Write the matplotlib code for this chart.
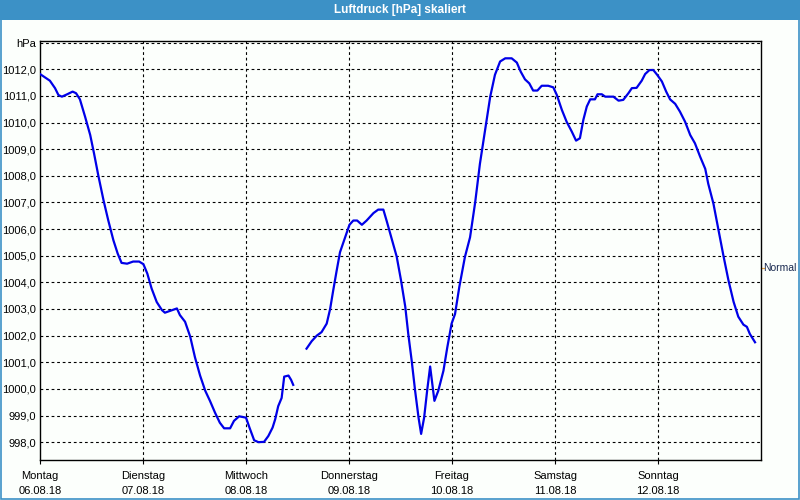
"""
Luftdruck [hPa] skaliert - Wochenverlauf 06.08.18 bis 12.08.18.
Writes out.png (800x500).
"""

import numpy as np
import matplotlib.pyplot as plt
from matplotlib.patches import Rectangle

# time in hours since Montag 06.08.18 00:00; NaN marks the data gap
hours = [
    0.0, 2.3, 3.5, 4.3, 5.1, 6.2, 7.6, 8.4, 9.3, 10.5, 11.7, 12.6, 13.6, 14.8,
    15.9, 17.1, 18.1, 19.0, 20.3, 21.7, 23.1, 24.1, 25.0, 26.0, 27.2, 28.4,
    29.1, 30.3, 31.9, 32.6, 33.8, 35.0, 36.1, 37.3, 38.5, 39.6, 40.8, 41.9,
    42.9, 44.3, 45.2, 46.4, 48.0, 48.8, 49.9, 50.9, 52.2, 53.2, 54.2, 54.8,
    55.5, 56.3, 56.9, 57.9, 58.5, 59.0,
    np.nan,
    62.1, 63.3, 64.5, 65.6, 66.8, 67.6, 68.3, 69.1, 69.9, 71.1, 72.1, 73.0,
    73.9, 75.0, 76.1, 77.7, 78.8, 80.0, 80.8, 82.0, 83.1, 84.1, 85.1, 85.8,
    86.6, 87.4, 88.2, 88.8, 89.5, 90.2, 90.9, 91.4, 91.9, 92.8, 94.0, 94.9,
    95.9, 96.7, 97.7, 99.0, 100.2, 101.4, 102.5, 103.7, 104.9, 106.0, 107.2,
    108.4, 109.9, 111.1, 112.0, 113.0, 114.0, 114.9, 115.9, 116.9, 118.4,
    119.6, 120.4, 121.6, 122.7, 123.9, 124.9, 125.8, 126.6, 127.4, 128.2,
    129.3, 129.9, 130.9, 131.7, 132.8, 133.6, 134.8, 135.9, 137.1, 137.9,
    139.0, 140.2, 141.0, 142.0, 142.9, 143.8, 144.9, 145.9, 146.8, 148.0,
    149.1, 150.3, 151.5, 152.6, 153.8, 155.0, 155.7, 156.9, 158.1, 159.2,
    160.4, 161.6, 162.7, 163.9, 164.7, 165.4, 166.6,
]
pressure = [
    1011.82, 1011.57, 1011.29, 1011.03, 1010.97, 1011.05, 1011.16, 1011.10,
    1010.87, 1010.22, 1009.53, 1008.83, 1008.00, 1007.08, 1006.33, 1005.58,
    1005.08, 1004.73, 1004.70, 1004.78, 1004.78, 1004.68, 1004.33, 1003.77,
    1003.26, 1002.96, 1002.86, 1002.93, 1003.02, 1002.77, 1002.52, 1001.96,
    1001.19, 1000.50, 999.93, 999.55, 999.10, 998.73, 998.52, 998.52, 998.80,
    998.97, 998.92, 998.55, 998.07, 998.00, 998.01, 998.23, 998.55, 998.86,
    999.35, 999.66, 1000.46, 1000.50, 1000.34, 1000.15,
    np.nan,
    1001.51, 1001.79, 1002.00, 1002.13, 1002.45, 1003.00, 1003.68, 1004.42,
    1005.13, 1005.69, 1006.16, 1006.32, 1006.32, 1006.16, 1006.32, 1006.60,
    1006.73, 1006.73, 1006.29, 1005.60, 1004.97, 1004.09, 1003.09, 1002.07,
    1001.06, 999.93, 998.92, 998.31, 998.92, 999.93, 1000.84, 1000.18,
    999.55, 999.93, 1000.68, 1001.56, 1002.45, 1002.81, 1003.83, 1004.95,
    1005.69, 1007.01, 1008.45, 1009.71, 1010.97, 1011.79, 1012.29, 1012.41,
    1012.41, 1012.25, 1011.91, 1011.62, 1011.47, 1011.20, 1011.20, 1011.38,
    1011.38, 1011.32, 1011.04, 1010.47, 1010.03, 1009.66, 1009.32, 1009.41,
    1010.10, 1010.60, 1010.87, 1010.87, 1011.06, 1011.06, 1010.97, 1010.97,
    1010.97, 1010.82, 1010.85, 1011.10, 1011.29, 1011.30, 1011.57, 1011.82,
    1011.97, 1011.97, 1011.79, 1011.54, 1011.16, 1010.87, 1010.70, 1010.41,
    1010.03, 1009.53, 1009.22, 1008.72, 1008.26, 1007.70, 1006.96, 1005.96,
    1005.03, 1004.08, 1003.27, 1002.71, 1002.41, 1002.33, 1002.06, 1001.75,
]

day_names = ["Montag", "Dienstag", "Mittwoch", "Donnerstag", "Freitag", "Samstag", "Sonntag"]
day_dates = ["06.08.18", "07.08.18", "08.08.18", "09.08.18", "10.08.18", "11.08.18", "12.08.18"]
y_ticks = list(range(998, 1013))
normal_level = 1004.53

TITLE_BG = "#3c91c6"
PANEL_BG = "#fcfffc"
LINE_BLUE = "#0000e8"

plt.rcParams["font.family"] = ["Liberation Sans", "DejaVu Sans"]


def main() -> None:
    fig = plt.figure(figsize=(8, 5), dpi=100, facecolor=PANEL_BG)

    # title bar + outer frame
    fig.patches.append(Rectangle((0, 0.96), 1, 0.04, transform=fig.transFigure,
                                 facecolor=TITLE_BG, edgecolor="none", zorder=0))
    fig.patches.append(Rectangle((0.001, 0.0015), 0.998, 0.997, transform=fig.transFigure,
                                 facecolor="none", edgecolor=TITLE_BG, linewidth=1.2, zorder=1))
    fig.text(0.5, 0.979, "Luftdruck [hPa] skaliert", ha="center", va="center",
             color="white", fontsize=8.5, fontweight="bold")

    ax = fig.add_axes([0.05, 0.08, 0.9013, 0.838])
    ax.set_facecolor(PANEL_BG)

    x_days = np.array(hours) / 24.0
    ax.plot(x_days, pressure, color=LINE_BLUE, linewidth=1.6, zorder=3)

    ax.set_xlim(0, 7)
    ax.set_ylim(997.33, 1013.06)

    # gridlines
    grid_kw = dict(color="black", linewidth=0.8, linestyle=(0, (2.5, 2.5)), zorder=1)
    for v in y_ticks + [1013]:
        ax.axhline(v, **grid_kw)
    for d in range(1, 7):
        ax.axvline(d, **grid_kw)

    ax.set_yticks(y_ticks + [1013])
    ax.set_yticklabels([f"{v},0" for v in y_ticks] + ["hPa"])
    ax.tick_params(axis="y", length=0, pad=3, labelsize=8)

    ax.set_xticks(range(7))
    ax.set_xticklabels([f"{n}\n{d}" for n, d in zip(day_names, day_dates)],
                       linespacing=1.6)
    ax.tick_params(axis="x", direction="out", length=3, width=0.8, pad=5, labelsize=8)

    for s in ax.spines.values():
        s.set_linewidth(1.0)
        s.set_color("black")

    # "Normal" marker on the right
    ax.plot([1.0, 1.004], [normal_level, normal_level], transform=ax.get_yaxis_transform(),
            color="#e8a040", linewidth=0.9, clip_on=False)
    ax.text(1.0035, normal_level, "Normal", transform=ax.get_yaxis_transform(),
            ha="left", va="center", fontsize=7.5, color="#1a2a50")

    fig.savefig("out.png", dpi=100, facecolor=PANEL_BG)
    plt.close(fig)


if __name__ == "__main__":
    main()
